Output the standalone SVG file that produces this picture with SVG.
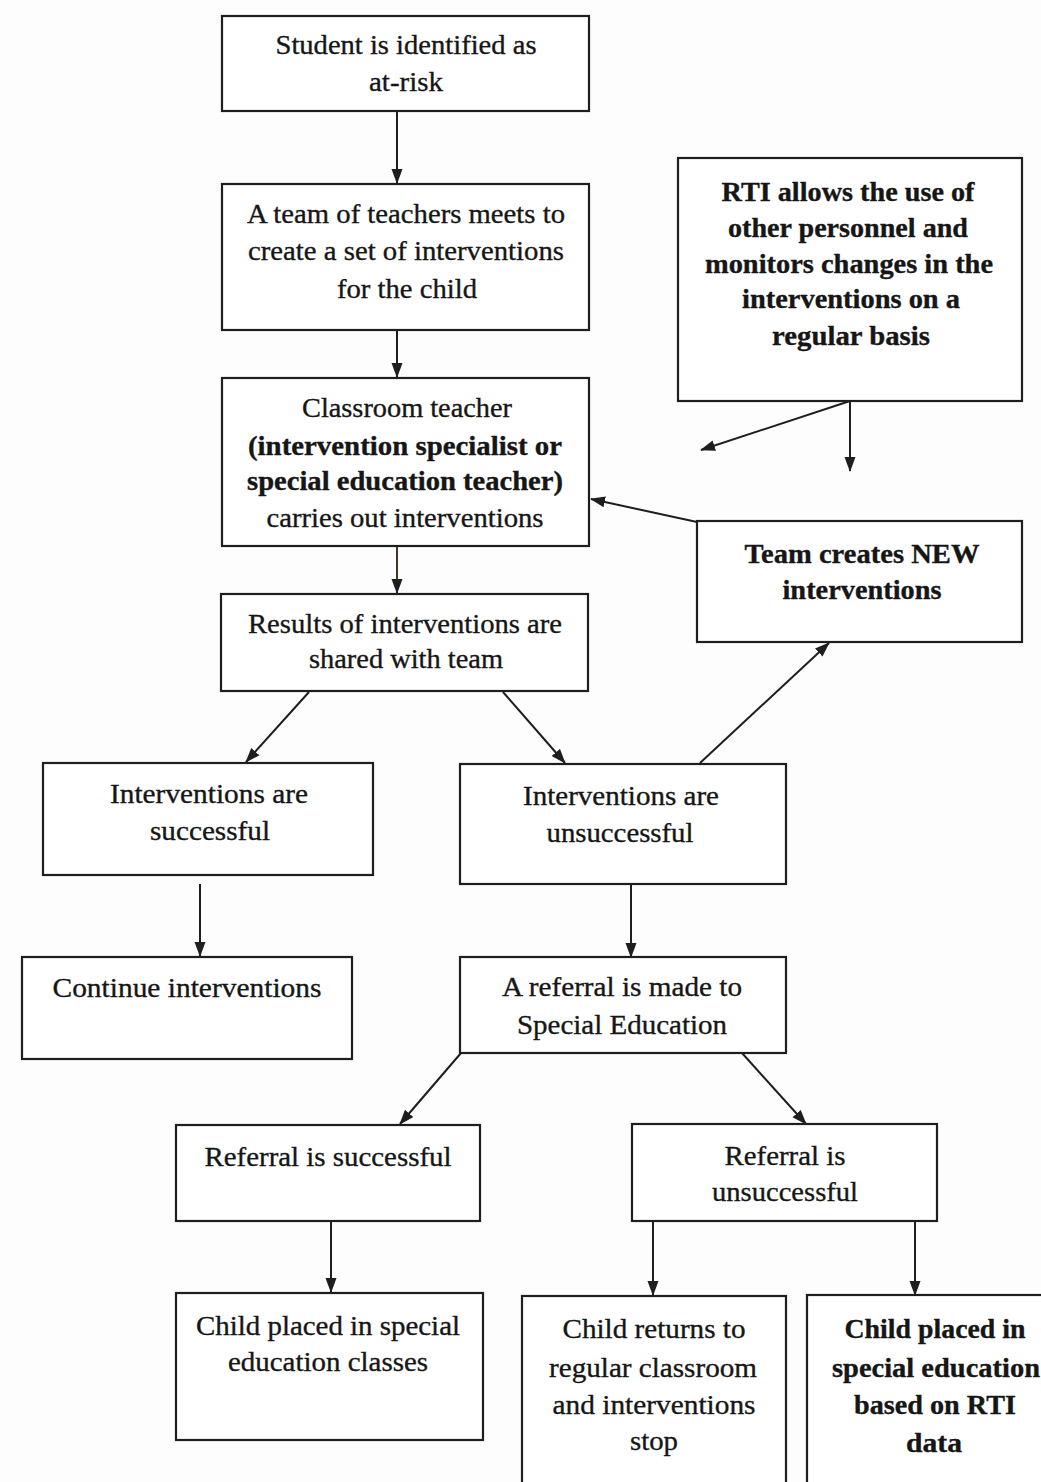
<svg xmlns="http://www.w3.org/2000/svg" width="1041" height="1482" viewBox="0 0 1041 1482">
<style>
.box{fill:#fff;stroke:#1e1e1e;stroke-width:2.2}
.t{font-family:"Liberation Serif","Times New Roman",Times,serif;font-size:28px;fill:#161616;stroke:#161616;stroke-width:0.35;text-anchor:middle}
.b{font-weight:bold}
.c{stroke:#1e1e1e;stroke-width:2;fill:none;marker-end:url(#ah)}
</style>
<defs>
<marker id="ah" markerWidth="15" markerHeight="12" refX="14" refY="6" orient="auto" markerUnits="userSpaceOnUse">
<path d="M0,0.5 L15,6 L0,11.5 Z" fill="#1e1e1e"/>
</marker>
</defs>
<rect width="1041" height="1482" fill="#fdfdfd"/>
<g id="connectors">
<line class="c" x1="397" y1="111" x2="397" y2="183"/>
<line class="c" x1="397" y1="330" x2="397" y2="377"/>
<line class="c" x1="397" y1="546" x2="397" y2="593" style="stroke:#4a3428"/>
<line class="c" x1="850" y1="401" x2="701" y2="450"/>
<line class="c" x1="850" y1="401" x2="850" y2="471"/>
<line class="c" x1="697" y1="522" x2="591" y2="499"/>
<line class="c" x1="700" y1="763" x2="829" y2="643"/>
<line class="c" x1="309" y1="692" x2="246" y2="762"/>
<line class="c" x1="503" y1="692" x2="565" y2="763"/>
<line class="c" x1="200" y1="884" x2="200" y2="956"/>
<line class="c" x1="631" y1="884" x2="631" y2="957"/>
<line class="c" x1="461" y1="1053" x2="400" y2="1124"/>
<line class="c" x1="742" y1="1053" x2="806" y2="1124"/>
<line class="c" x1="331" y1="1222" x2="331" y2="1292"/>
<line class="c" x1="653" y1="1222" x2="653" y2="1295"/>
<line class="c" x1="915" y1="1222" x2="915" y2="1295"/>
</g>
<g id="n1">
<rect class="box" x="222" y="16" width="367" height="95"/>
<text class="t" x="406" y="54" textLength="261" lengthAdjust="spacingAndGlyphs">Student is identified as</text>
<text class="t" x="406" y="91" textLength="74" lengthAdjust="spacingAndGlyphs">at-risk</text>
</g>
<g id="n2">
<rect class="box" x="222" y="184" width="367" height="146"/>
<text class="t" x="406" y="223" textLength="318" lengthAdjust="spacingAndGlyphs">A team of teachers meets to</text>
<text class="t" x="406" y="260" textLength="316" lengthAdjust="spacingAndGlyphs">create a set of interventions</text>
<text class="t" x="407" y="298" textLength="140" lengthAdjust="spacingAndGlyphs">for the child</text>
</g>
<g id="n3">
<rect class="box" x="222" y="378" width="367" height="168"/>
<text class="t" x="407" y="417" textLength="210" lengthAdjust="spacingAndGlyphs">Classroom teacher</text>
<text class="t b" x="405" y="455" textLength="314" lengthAdjust="spacingAndGlyphs">(intervention specialist or</text>
<text class="t b" x="405" y="490" textLength="316" lengthAdjust="spacingAndGlyphs">special education teacher)</text>
<text class="t" x="405" y="527" textLength="277" lengthAdjust="spacingAndGlyphs">carries out interventions</text>
</g>
<g id="n4">
<rect class="box" x="221" y="594" width="367" height="97"/>
<text class="t" x="405" y="633" textLength="314" lengthAdjust="spacingAndGlyphs">Results of interventions are</text>
<text class="t" x="406" y="668" textLength="194" lengthAdjust="spacingAndGlyphs">shared with team</text>
</g>
<g id="n5">
<rect class="box" x="678" y="158" width="344" height="243"/>
<text class="t b" x="848" y="201" textLength="253" lengthAdjust="spacingAndGlyphs">RTI allows the use of</text>
<text class="t b" x="848" y="237" textLength="240" lengthAdjust="spacingAndGlyphs">other personnel and</text>
<text class="t b" x="849" y="273" textLength="288" lengthAdjust="spacingAndGlyphs">monitors changes in the</text>
<text class="t b" x="851" y="308" textLength="218" lengthAdjust="spacingAndGlyphs">interventions on a</text>
<text class="t b" x="851" y="345" textLength="158" lengthAdjust="spacingAndGlyphs">regular basis</text>
</g>
<g id="n6">
<rect class="box" x="697" y="521" width="325" height="121"/>
<text class="t b" x="862" y="563" textLength="235" lengthAdjust="spacingAndGlyphs">Team creates NEW</text>
<text class="t b" x="862" y="599" textLength="159" lengthAdjust="spacingAndGlyphs">interventions</text>
</g>
<g id="n7">
<rect class="box" x="43" y="763" width="330" height="112"/>
<text class="t" x="209" y="803" textLength="198" lengthAdjust="spacingAndGlyphs">Interventions are</text>
<text class="t" x="210" y="840" textLength="120" lengthAdjust="spacingAndGlyphs">successful</text>
</g>
<g id="n8">
<rect class="box" x="460" y="764" width="326" height="120"/>
<text class="t" x="621" y="805" textLength="196" lengthAdjust="spacingAndGlyphs">Interventions are</text>
<text class="t" x="620" y="842" textLength="147" lengthAdjust="spacingAndGlyphs">unsuccessful</text>
</g>
<g id="n9">
<rect class="box" x="22" y="957" width="330" height="102"/>
<text class="t" x="187" y="997" textLength="269" lengthAdjust="spacingAndGlyphs">Continue interventions</text>
</g>
<g id="n10">
<rect class="box" x="460" y="957" width="326" height="96"/>
<text class="t" x="622" y="996" textLength="240" lengthAdjust="spacingAndGlyphs">A referral is made to</text>
<text class="t" x="622" y="1034" textLength="210" lengthAdjust="spacingAndGlyphs">Special Education</text>
</g>
<g id="n11">
<rect class="box" x="176" y="1125" width="304" height="96"/>
<text class="t" x="328" y="1166" textLength="247" lengthAdjust="spacingAndGlyphs">Referral is successful</text>
</g>
<g id="n12">
<rect class="box" x="632" y="1124" width="305" height="97"/>
<text class="t" x="785" y="1165" textLength="121" lengthAdjust="spacingAndGlyphs">Referral is</text>
<text class="t" x="785" y="1201" textLength="146" lengthAdjust="spacingAndGlyphs">unsuccessful</text>
</g>
<g id="n13">
<rect class="box" x="176" y="1293" width="307" height="147"/>
<text class="t" x="328" y="1335" textLength="264" lengthAdjust="spacingAndGlyphs">Child placed in special</text>
<text class="t" x="328" y="1371" textLength="200" lengthAdjust="spacingAndGlyphs">education classes</text>
</g>
<g id="n14">
<rect class="box" x="522" y="1296" width="264" height="200"/>
<text class="t" x="654" y="1338" textLength="183" lengthAdjust="spacingAndGlyphs">Child returns to</text>
<text class="t" x="653" y="1377" textLength="208" lengthAdjust="spacingAndGlyphs">regular classroom</text>
<text class="t" x="654" y="1414" textLength="203" lengthAdjust="spacingAndGlyphs">and interventions</text>
<text class="t" x="654" y="1450" textLength="48" lengthAdjust="spacingAndGlyphs">stop</text>
</g>
<g id="n15">
<rect class="box" x="807" y="1295" width="250" height="200"/>
<text class="t b" x="935" y="1338" textLength="181" lengthAdjust="spacingAndGlyphs">Child placed in</text>
<text class="t b" x="936" y="1377" textLength="208" lengthAdjust="spacingAndGlyphs">special education</text>
<text class="t b" x="935" y="1414" textLength="162" lengthAdjust="spacingAndGlyphs">based on RTI</text>
<text class="t b" x="934" y="1452" textLength="56" lengthAdjust="spacingAndGlyphs">data</text>
</g>
</svg>
